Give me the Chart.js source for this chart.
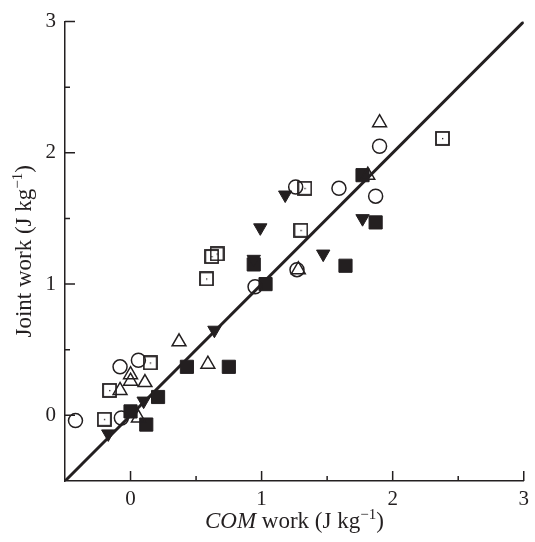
<!DOCTYPE html>
<html>
<head>
<meta charset="utf-8">
<script src="https://cdn.jsdelivr.net/npm/chart.js@4.4.1/dist/chart.umd.min.js"></script>
<style>
  body { margin: 0; background: #fff; }
  canvas { display: block; }
</style>
</head>
<body>
<canvas id="myChart" width="535" height="542"></canvas>
<script>
// values (J kg-1)
const circleX = [-0.42, -0.08, -0.07, 0.06, 0.95, 1.26, 1.27, 1.59, 1.87, 1.90];
const circleY = [-0.04, 0.37, -0.02, 0.42, 0.98, 1.74, 1.11, 1.73, 1.67, 2.05];

const triangleX = [-0.08, 0.0, 0.0, 0.11, 0.06, 0.37, 0.59, 1.28, 1.81, 1.90];
const triangleY = [0.19, 0.26, 0.31, 0.25, -0.02, 0.56, 0.39, 1.11, 1.83, 2.23];

const squareX = [-0.20, -0.16, 0.15, 0.58, 0.62, 0.66, 1.30, 1.33, 2.38];
const squareY = [-0.03, 0.19, 0.40, 1.04, 1.21, 1.23, 1.41, 1.73, 2.11];

const downX = [-0.17, 0.10, 0.64, 0.94, 0.99, 1.18, 1.47, 1.77];
const downY = [-0.14, 0.11, 0.65, 1.19, 1.43, 1.68, 1.23, 1.50];

const filledSqX = [0.0, 0.12, 0.21, 0.43, 0.75, 0.94, 1.03, 1.64, 1.77, 1.87];
const filledSqY = [0.03, -0.07, 0.14, 0.37, 0.37, 1.15, 1.0, 1.14, 1.83, 1.47];

// line of identity
const identityX = [-0.5, 3];
const identityY = [-0.5, 3];

const tickLabels = ['0', '1', '2', '3'];

const ink = '#231f20';
const serif = "'Liberation Serif', 'Times New Roman', serif";

function pts(xs, ys) {
  return xs.map((x, i) => ({ x: x, y: ys[i] }));
}

// open square with a little dot in the middle
function dottedSquare() {
  const c = document.createElement('canvas');
  c.width = 15; c.height = 15;
  const g = c.getContext('2d');
  g.strokeStyle = ink;
  g.lineWidth = 1.8;
  g.strokeRect(1, 1, 13, 13);
  g.fillStyle = ink;
  g.fillRect(7, 7, 1.3, 1.3);
  return c;
}

const inwardTicks = {
  id: 'inwardTicks',
  afterDatasetsDraw(chart) {
    const ctx = chart.ctx, area = chart.chartArea;
    const xs = chart.scales.x, ys = chart.scales.y;
    ctx.save();
    ctx.strokeStyle = ink;
    ctx.lineWidth = 1.5;
    ctx.beginPath();
    xs.ticks.forEach(t => {
      if (t.value <= -0.5) return;
      const px = xs.getPixelForValue(t.value);
      const len = Number.isInteger(t.value) ? 10 : 5;
      ctx.moveTo(px, area.bottom);
      ctx.lineTo(px, area.bottom - len);
    });
    ys.ticks.forEach(t => {
      if (t.value <= -0.5) return;
      const py = ys.getPixelForValue(t.value);
      const len = Number.isInteger(t.value) ? 10 : 5;
      ctx.moveTo(area.left, py);
      ctx.lineTo(area.left + len, py);
    });
    ctx.stroke();
    ctx.restore();
  }
};

function drawRich(ctx, parts) {
  let total = 0;
  parts.forEach(p => { ctx.font = p.font; total += ctx.measureText(p.t).width; });
  let cx = -total / 2;
  parts.forEach(p => {
    ctx.font = p.font;
    ctx.fillText(p.t, cx, -(p.dy || 0));
    cx += ctx.measureText(p.t).width;
  });
}

const axisTitles = {
  id: 'axisTitles',
  afterDraw(chart) {
    const ctx = chart.ctx, area = chart.chartArea;
    const big = '23px ' + serif, sup = '15px ' + serif;
    ctx.save();
    ctx.fillStyle = ink;
    ctx.textBaseline = 'alphabetic';
    ctx.textAlign = 'left';

    ctx.save();
    ctx.translate((area.left + area.right) / 2, 528);
    drawRich(ctx, [
      { t: 'COM', font: 'italic 23px ' + serif },
      { t: ' work (J kg', font: big },
      { t: '\u22121', font: sup, dy: 9 },
      { t: ')', font: big }
    ]);
    ctx.restore();

    ctx.save();
    ctx.translate(31, (area.top + area.bottom) / 2);
    ctx.rotate(-Math.PI / 2);
    drawRich(ctx, [
      { t: 'Joint work (J kg', font: big },
      { t: '\u22121', font: sup, dy: 9 },
      { t: ')', font: big }
    ]);
    ctx.restore();

    ctx.restore();
  }
};

function label(v) {
  const s = String(v);
  return tickLabels.includes(s) ? s : '';
}

const ctx = document.getElementById('myChart');

let myChart = new Chart(ctx, {
  type: 'scatter',
  data: {
    datasets: [{
        label: 'open circles',
        data: pts(circleX, circleY),
        pointStyle: 'circle',
        pointRadius: 7,
        borderColor: ink,
        backgroundColor: 'transparent',
        borderWidth: 1.5
      },
      {
        label: 'open triangles',
        data: pts(triangleX, triangleY),
        pointStyle: 'triangle',
        pointRadius: 8,
        borderColor: ink,
        backgroundColor: 'transparent',
        borderWidth: 1.5
      },
      {
        label: 'open squares',
        data: pts(squareX, squareY),
        pointStyle: dottedSquare(),
        pointRadius: 7
      },
      {
        label: 'filled down triangles',
        data: pts(downX, downY),
        pointStyle: 'triangle',
        rotation: 180,
        pointRadius: 7.7,
        borderColor: ink,
        backgroundColor: ink,
        borderWidth: 1
      },
      {
        label: 'filled squares',
        data: pts(filledSqX, filledSqY),
        pointStyle: 'rect',
        pointRadius: 9.3,
        borderColor: ink,
        backgroundColor: ink,
        borderWidth: 1
      },
      {
        label: 'identity',
        data: pts(identityX, identityY),
        showLine: true,
        pointRadius: 0,
        borderColor: ink,
        borderWidth: 3,
        order: 10
      }
    ]
  },
  options: {
    responsive: false,
    animation: false,
    layout: { padding: { top: 17, right: 7, left: 0, bottom: 0 } },
    plugins: {
      legend: { display: false },
      tooltip: { enabled: false }
    },
    scales: {
      x: {
        type: 'linear',
        min: -0.5,
        max: 3,
        grid: { display: false, drawTicks: false },
        border: { display: true, color: ink, width: 1.5 },
        ticks: {
          stepSize: 0.5,
          autoSkip: false,
          maxRotation: 0,
          padding: 6,
          color: ink,
          font: { family: serif, size: 21 },
          callback: label
        },
        afterFit: s => { s.height = 61; }
      },
      y: {
        type: 'linear',
        min: -0.5,
        max: 3,
        grid: { display: false, drawTicks: false },
        border: { display: true, color: ink, width: 1.5 },
        ticks: {
          stepSize: 0.5,
          autoSkip: false,
          padding: 9,
          color: ink,
          font: { family: serif, size: 21 },
          callback: label
        },
        afterFit: s => { s.width = 65; }
      }
    }
  },
  plugins: [inwardTicks, axisTitles]
});
</script>
</body>
</html>
